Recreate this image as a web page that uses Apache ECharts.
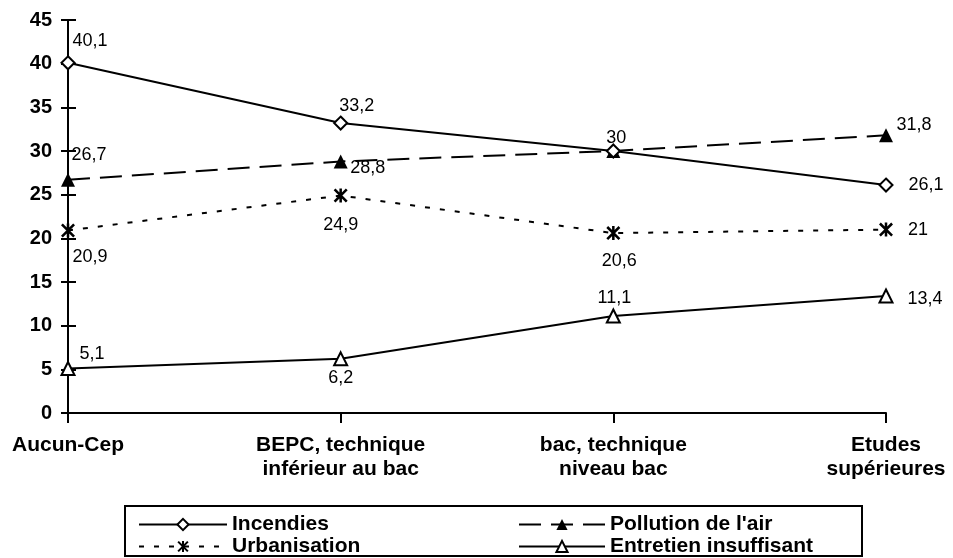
<!DOCTYPE html>
<html>
<head>
<meta charset="utf-8">
<script src="https://cdn.jsdelivr.net/npm/echarts@6/dist/echarts.min.js"></script>
<style>html,body{margin:0;padding:0;background:#fff}#c{width:953px;height:558px}</style>
</head>
<body>
<div id="c"></div>
<script>
const categories = ['Aucun-Cep', 'BEPC, technique\ninférieur au bac', 'bac, technique\nniveau bac', 'Etudes\nsupérieures'];
const incendies = [40.1, 33.2, 30, 26.1];
const pollution = [26.7, 28.8, 30, 31.8];
const urbanisation = [20.9, 24.9, 20.6, 21];
const entretien = [5.1, 6.2, 11.1, 13.4];
const yTicks = [0, 5, 10, 15, 20, 25, 30, 35, 40, 45];

// label offsets (style only) relative to each point's centre
const offIncendies = [[22, -22], [16, -17], [3, -13], [40, 0]];
const offPollution = [[21, -25], [27, 7], null, [28, -10]];
const offUrbanisation = [[22, 27], [0, 29], [6, 28], [32, 0]];
const offEntretien = [[24, -14], [0, 19], [1, -18], [39, 3]];

const FONT = '"Liberation Sans", Arial, Helvetica, sans-serif';
const fmt = v => String(v).replace('.', ',');

function build(values, offs) {
  return values.map((v, i) => {
    const o = offs[i];
    return {
      value: v,
      label: o ? { show: true, position: 'inside', offset: o, formatter: fmt(v) } : { show: false }
    };
  });
}

const asterisk = 'path://M4.1,0 L5.9,0 L5.9,10 L4.1,10 Z M0,1.3 L1.3,0 L10,8.7 L8.7,10 Z M8.7,0 L10,1.3 L1.3,10 L0,8.7 Z';

const labelBase = { color: '#000', fontSize: 18, fontFamily: FONT };
const legendText = { color: '#000', fontSize: 21, fontWeight: 'bold', fontFamily: FONT, lineHeight: 15 };

const chart = echarts.init(document.getElementById('c'), null, { renderer: 'canvas' });
chart.setOption({
  backgroundColor: '#fff',
  animation: false,
  grid: { left: 68, right: 67, top: 20, bottom: 145, containLabel: false },
  xAxis: {
    type: 'category',
    data: categories,
    boundaryGap: false,
    axisLine: { lineStyle: { color: '#000', width: 2 } },
    axisTick: { show: true, length: 10, lineStyle: { color: '#000', width: 2 } },
    axisLabel: { color: '#000', fontSize: 21, fontWeight: 'bold', fontFamily: FONT, lineHeight: 24, margin: 20 },
    splitLine: { show: false }
  },
  yAxis: [{
    type: 'value', position: 'left', min: yTicks[0], max: yTicks[yTicks.length - 1], interval: yTicks[1] - yTicks[0],
    axisLine: { show: true, lineStyle: { color: '#000', width: 2 } },
    axisTick: { show: true, length: 7, lineStyle: { color: '#000', width: 2 } },
    axisLabel: { color: '#000', fontSize: 20, fontWeight: 'bold', fontFamily: FONT, margin: 16 },
    splitLine: { show: false }
  }, {
    type: 'value', position: 'left', offset: 0, min: yTicks[0], max: yTicks[yTicks.length - 1], interval: yTicks[1] - yTicks[0],
    axisLine: { show: false },
    axisTick: { show: true, inside: true, length: 8, lineStyle: { color: '#000', width: 2 } },
    axisLabel: { show: false },
    splitLine: { show: false }
  }],
  legend: [{
    orient: 'vertical', left: 138, top: 514, height: 44, padding: 0, itemWidth: 88, itemHeight: 14, itemGap: 1,
    data: ['Incendies', 'Urbanisation'],
    textStyle: legendText
  }, {
    orient: 'vertical', left: 518, top: 514, height: 44, padding: 0, itemWidth: 86, itemHeight: 14, itemGap: 1,
    data: ['Pollution de l\'air', 'Entretien insuffisant'],
    textStyle: legendText
  }],
  graphic: [{
    type: 'rect', shape: { x: 125, y: 506, width: 737, height: 50 },
    style: { fill: 'none', stroke: '#000', lineWidth: 2 }, silent: true
  }],
  series: [{
    name: 'Pollution de l\'air', type: 'line', data: build(pollution, offPollution),
    symbol: 'triangle', symbolSize: 14,
    lineStyle: { color: '#000', width: 2, type: [22, 10] },
    itemStyle: { color: '#000' },
    label: labelBase, z: 2
  }, {
    name: 'Urbanisation', type: 'line', data: build(urbanisation, offUrbanisation),
    symbol: asterisk, symbolSize: 14,
    lineStyle: { color: '#000', width: 2, type: [5, 10] },
    itemStyle: { color: '#000' },
    label: labelBase, z: 2
  }, {
    name: 'Entretien insuffisant', type: 'line', data: build(entretien, offEntretien),
    symbol: 'triangle', symbolSize: 13,
    lineStyle: { color: '#000', width: 2 },
    itemStyle: { color: '#fff', borderColor: '#000', borderWidth: 2 },
    label: labelBase, z: 3
  }, {
    name: 'Incendies', type: 'line', data: build(incendies, offIncendies),
    symbol: 'diamond', symbolSize: 13,
    lineStyle: { color: '#000', width: 2 },
    itemStyle: { color: '#fff', borderColor: '#000', borderWidth: 2 },
    label: labelBase, z: 4
  }]
});
</script>
</body>
</html>
